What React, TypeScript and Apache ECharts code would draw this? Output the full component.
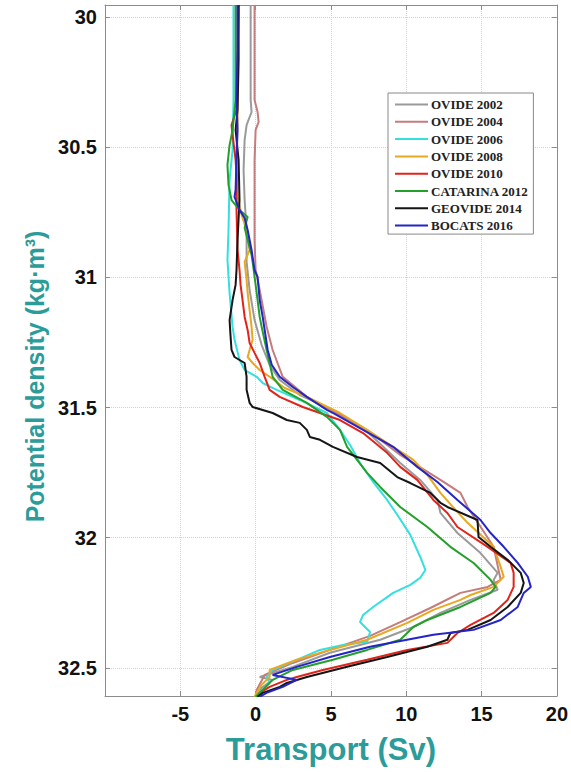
import React, { useEffect, useRef } from 'react';
import * as echarts from 'echarts';

const seriesNames = ['OVIDE 2002', 'OVIDE 2004', 'OVIDE 2006', 'OVIDE 2008', 'OVIDE 2010', 'CATARINA 2012', 'GEOVIDE 2014', 'BOCATS 2016'];
const seriesColors = ['#9a9a9a', '#c47c7c', '#33e0e0', '#e8a820', '#e2231a', '#22a02a', '#151515', '#2424c8'];

const densityTicks = [30, 30.5, 31, 31.5, 32, 32.5];

const ovide2002 = [[-0.33, 29.954], [-0.33, 30.319], [-0.27, 30.365], [-0.6, 30.415], [-0.73, 30.472], [-0.8, 30.588], [-0.73, 30.703], [-0.6, 30.818], [-0.6, 30.941], [-0.4, 31.048], [-0.07, 31.164], [0.4, 31.26], [0.93, 31.336], [1.6, 31.394], [2.93, 31.452], [5.13, 31.509], [7.13, 31.578], [8.47, 31.651], [9.6, 31.713], [10.93, 31.778], [12.07, 31.855], [12.27, 31.905], [13.4, 31.982], [14.93, 32.059], [16.07, 32.135], [15.8, 32.162], [16.07, 32.2], [14.27, 32.239], [12.27, 32.289], [10.47, 32.343], [8.27, 32.392], [4.93, 32.442], [2.47, 32.496], [0.27, 32.535], [1.13, 32.546], [0.4, 32.577], [0.07, 32.611]];

const ovide2004 = [[-0.07, 29.954], [-0.07, 30.165], [-0.07, 30.319], [0.13, 30.365], [0.2, 30.403], [0.0, 30.434], [-0.07, 30.549], [-0.07, 30.703], [-0.07, 30.856], [0.0, 30.972], [0.27, 31.048], [0.73, 31.19], [1.13, 31.279], [1.8, 31.382], [3.4, 31.459], [5.6, 31.528], [7.6, 31.594], [9.6, 31.682], [12.27, 31.778], [13.6, 31.828], [14.07, 31.882], [15.8, 32.035], [16.27, 32.162], [15.4, 32.189], [13.6, 32.212], [11.6, 32.27], [9.6, 32.324], [7.6, 32.377], [4.93, 32.431], [2.47, 32.481], [0.6, 32.527], [0.07, 32.585], [0.0, 32.611]];

const ovide2006 = [[-1.47, 29.954], [-1.47, 30.319], [-1.53, 30.511], [-1.73, 30.626], [-1.8, 30.818], [-1.87, 30.933], [-1.73, 31.06], [-1.53, 31.19], [-1.4, 31.24], [-1.07, 31.317], [-0.73, 31.356], [0.07, 31.382], [0.47, 31.406], [1.4, 31.432], [2.93, 31.471], [4.73, 31.521], [5.6, 31.586], [6.27, 31.644], [6.93, 31.713], [7.8, 31.786], [8.73, 31.855], [9.4, 31.912], [10.27, 31.989], [10.93, 32.074], [11.27, 32.124], [10.93, 32.154], [10.27, 32.181], [9.13, 32.212], [7.8, 32.266], [7.13, 32.297], [6.93, 32.324], [7.6, 32.362], [7.4, 32.4], [5.8, 32.412], [4.27, 32.431], [2.73, 32.469], [1.13, 32.508], [0.73, 32.535], [0.93, 32.558], [0.27, 32.596], [0.07, 32.611]];

const ovide2008 = [[-1.2, 29.954], [-1.2, 30.165], [-1.2, 30.396], [-1.27, 30.549], [-1.2, 30.691], [-0.93, 30.76], [-0.6, 30.818], [-0.4, 30.895], [-0.73, 30.941], [-0.6, 31.01], [-0.53, 31.06], [-0.4, 31.125], [-0.27, 31.19], [-0.2, 31.24], [-0.4, 31.279], [-0.53, 31.306], [-0.2, 31.329], [0.27, 31.356], [0.93, 31.382], [1.93, 31.425], [3.4, 31.459], [5.6, 31.521], [7.4, 31.586], [9.13, 31.651], [10.47, 31.701], [11.4, 31.759], [12.27, 31.828], [13.27, 31.893], [14.07, 31.943], [15.8, 32.035], [16.27, 32.112], [16.47, 32.15], [15.8, 32.189], [14.27, 32.22], [13.6, 32.239], [11.8, 32.277], [10.07, 32.327], [7.4, 32.392], [4.93, 32.431], [2.73, 32.469], [0.93, 32.508], [0.93, 32.535], [0.4, 32.565], [0.07, 32.596], [-0.07, 32.611]];

const ovide2010 = [[-1.13, 29.954], [-1.2, 30.165], [-1.27, 30.357], [-1.6, 30.415], [-1.53, 30.453], [-1.33, 30.549], [-1.27, 30.607], [-1.27, 30.741], [-1.2, 30.895], [-1.07, 30.972], [-1.0, 31.029], [-0.87, 31.087], [-0.73, 31.152], [-0.53, 31.202], [-0.4, 31.252], [-0.07, 31.29], [0.27, 31.329], [0.6, 31.382], [0.93, 31.432], [1.6, 31.459], [3.13, 31.498], [5.6, 31.548], [7.13, 31.598], [8.73, 31.674], [9.6, 31.728], [10.73, 31.778], [11.8, 31.855], [12.73, 31.905], [13.4, 31.959], [15.4, 32.035], [16.93, 32.097], [17.13, 32.135], [17.13, 32.189], [16.73, 32.239], [15.8, 32.289], [14.27, 32.335], [13.4, 32.366], [12.73, 32.404], [10.07, 32.431], [7.4, 32.469], [4.47, 32.508], [2.73, 32.535], [2.07, 32.546], [0.93, 32.573], [0.27, 32.596], [0.07, 32.611]];

const catarina2012 = [[-1.33, 29.954], [-1.33, 30.319], [-1.53, 30.434], [-1.73, 30.492], [-1.87, 30.568], [-1.8, 30.645], [-1.6, 30.703], [-1.07, 30.741], [-0.53, 30.768], [-0.73, 30.81], [-0.53, 30.856], [-0.27, 30.914], [-0.2, 30.941], [0.07, 31.06], [0.27, 31.152], [0.4, 31.19], [0.73, 31.279], [1.13, 31.382], [1.8, 31.432], [3.4, 31.482], [4.73, 31.536], [5.6, 31.586], [6.07, 31.651], [7.4, 31.751], [8.27, 31.805], [9.6, 31.882], [11.4, 31.959], [12.93, 32.035], [14.47, 32.097], [15.6, 32.162], [15.93, 32.189], [15.6, 32.212], [13.6, 32.266], [11.4, 32.316], [10.47, 32.343], [9.6, 32.392], [7.4, 32.431], [5.13, 32.469], [2.47, 32.508], [1.13, 32.546], [0.27, 32.596], [0.0, 32.611]];

const geovide2014 = [[-1.13, 29.954], [-1.13, 30.165], [-1.2, 30.357], [-1.33, 30.434], [-1.13, 30.549], [-1.07, 30.703], [-1.2, 30.856], [-1.27, 30.972], [-1.33, 31.029], [-1.53, 31.087], [-1.73, 31.164], [-1.67, 31.221], [-1.6, 31.279], [-1.4, 31.306], [-0.73, 31.329], [-0.6, 31.382], [-0.6, 31.432], [-0.4, 31.482], [-0.2, 31.498], [1.13, 31.521], [2.07, 31.548], [2.93, 31.559], [3.4, 31.586], [3.6, 31.613], [4.27, 31.624], [5.13, 31.651], [6.73, 31.69], [8.27, 31.713], [9.4, 31.767], [10.27, 31.79], [11.6, 31.828], [12.27, 31.866], [12.73, 31.882], [14.73, 31.932], [14.8, 31.997], [15.6, 32.035], [16.73, 32.085], [17.6, 32.135], [17.8, 32.174], [17.6, 32.212], [16.73, 32.266], [15.6, 32.316], [14.07, 32.354], [12.93, 32.366], [12.73, 32.392], [11.4, 32.419], [8.73, 32.458], [6.07, 32.496], [3.4, 32.535], [2.07, 32.558], [1.6, 32.573], [0.47, 32.596], [0.13, 32.611]];

const bocats2016 = [[-1.2, 29.954], [-1.2, 30.127], [-1.27, 30.319], [-1.2, 30.434], [-1.27, 30.549], [-1.33, 30.664], [-1.4, 30.691], [-1.07, 30.741], [-0.73, 30.772], [-0.53, 30.818], [-0.27, 30.895], [-0.07, 30.972], [0.13, 30.998], [0.27, 31.087], [0.47, 31.152], [0.6, 31.202], [0.8, 31.279], [1.07, 31.336], [1.6, 31.382], [2.47, 31.421], [3.4, 31.459], [4.73, 31.509], [5.13, 31.521], [7.13, 31.586], [9.13, 31.651], [10.73, 31.728], [12.07, 31.786], [13.4, 31.855], [14.93, 31.932], [15.6, 31.982], [16.47, 32.035], [17.4, 32.097], [18.07, 32.15], [18.27, 32.189], [17.8, 32.212], [17.4, 32.266], [16.27, 32.316], [14.47, 32.354], [11.8, 32.373], [7.6, 32.419], [4.93, 32.458], [2.73, 32.496], [1.13, 32.527], [2.73, 32.546], [1.8, 32.573], [0.73, 32.596], [0.27, 32.611]];

const seriesData = [ovide2002, ovide2004, ovide2006, ovide2008, ovide2010, catarina2012, geovide2014, bocats2016];

const FRAME = '#8c8c8c';
const GRID = '#d2d2d2';
const TEAL = '#2b9c9a';

export default function App() {
  const ref = useRef<HTMLDivElement>(null);
  useEffect(() => {
    const chart = echarts.init(ref.current as HTMLDivElement, null, { renderer: 'svg' });
    const tickLabel = { fontSize: 20, fontWeight: 'bold', fontFamily: 'Liberation Sans, Arial, sans-serif', color: '#111' };
    chart.setOption({
      animation: false,
      backgroundColor: '#fff',
      grid: { left: 105, right: 14, top: 5, bottom: 76, containLabel: false },
      legend: {
        data: seriesNames,
        orient: 'vertical',
        left: 388,
        top: 93,
        padding: [5, 5, 2, 7],
        icon: 'rect',
        itemWidth: 33,
        itemHeight: 2,
        itemGap: 4.3,
        borderColor: '#888',
        borderWidth: 1,
        borderRadius: 0,
        backgroundColor: '#fff',
        textStyle: { fontFamily: 'Liberation Serif, Times New Roman, serif', fontWeight: 'bold', fontSize: 13, color: '#222', padding: [0, 0, 0, -2] },
      },
      xAxis: [
        {
          type: 'value', min: -10, max: 20, interval: 5, position: 'bottom',
          axisLine: { show: true, onZero: false, lineStyle: { color: FRAME, width: 1 } },
          axisTick: { show: true, inside: true, length: 5, lineStyle: { color: FRAME } },
          axisLabel: { ...tickLabel, margin: 8, formatter: (v: number) => (v === -10 ? '' : String(v)) },
          splitLine: { show: true, lineStyle: { type: 'dotted', color: GRID } },
          name: 'Transport (Sv)', nameLocation: 'middle', nameGap: 38,
          nameTextStyle: { fontSize: 31, fontWeight: 'bold', fontFamily: 'Liberation Sans, Arial, sans-serif', color: TEAL },
        },
        {
          type: 'value', min: -10, max: 20, interval: 5, position: 'top',
          axisLine: { show: true, onZero: false, lineStyle: { color: FRAME, width: 1 } },
          axisTick: { show: true, inside: true, length: 5, lineStyle: { color: FRAME } },
          axisLabel: { show: false },
          splitLine: { show: false },
        },
      ],
      yAxis: [
        {
          type: 'value', inverse: true, min: 29.954, max: 32.608, position: 'left',
          axisLine: { show: true, onZero: false, lineStyle: { color: FRAME, width: 1 } },
          axisTick: { show: true, inside: true, length: 5, lineStyle: { color: FRAME }, customValues: densityTicks },
          axisLabel: { ...tickLabel, margin: 8, customValues: densityTicks, formatter: (v: number) => String(v) },
          splitLine: { show: true, lineStyle: { type: 'dotted', color: GRID } },
          name: 'Potential density (kg·m³)', nameLocation: 'middle', nameGap: 55, nameRotate: 90,
          nameTextStyle: { fontSize: 25, fontWeight: 'bold', fontFamily: 'Liberation Sans, Arial, sans-serif', color: TEAL, padding: [0, 52, 0, 0] },
        },
        {
          type: 'value', inverse: true, min: 29.954, max: 32.608, position: 'right',
          axisLine: { show: true, onZero: false, lineStyle: { color: FRAME, width: 1 } },
          axisTick: { show: true, inside: true, length: 5, lineStyle: { color: FRAME }, customValues: densityTicks },
          axisLabel: { show: false, customValues: densityTicks },
          splitLine: { show: false },
        },
      ],
      series: seriesNames.map((name, i) => ({
        name,
        type: 'line',
        xAxisIndex: 0,
        yAxisIndex: 0,
        data: seriesData[i],
        symbol: 'none',
        smooth: false,
        silent: true,
        color: seriesColors[i],
        lineStyle: { width: 2, color: seriesColors[i] },
        z: 2 + i,
      })),
    });
    return () => chart.dispose();
  }, []);
  return <div ref={ref} style={{ position: 'fixed', left: 0, top: 0, width: 571, height: 772, background: '#fff' }} />;
}
